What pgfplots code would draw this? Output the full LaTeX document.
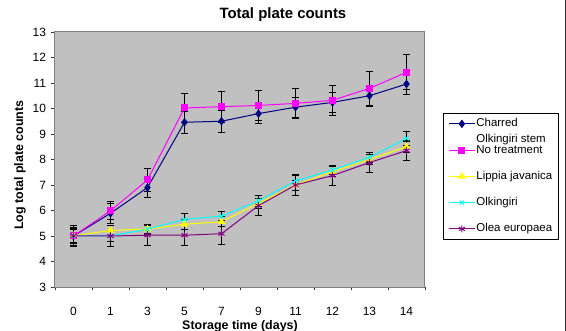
\documentclass[border=0pt]{standalone}
\usepackage{fontspec}
\setmainfont{Liberation Sans}
\usepackage{pgfplots}
\usepackage{pgfplotstable}
\pgfplotsset{compat=1.18}

\definecolor{plotgray}{RGB}{192,192,192}
\definecolor{framegray}{RGB}{128,128,128}
\definecolor{charred}{RGB}{0,0,128}
\definecolor{notreat}{RGB}{255,0,255}
\definecolor{lippia}{RGB}{255,255,0}
\definecolor{olking}{RGB}{0,255,255}
\definecolor{olea}{RGB}{128,0,128}

% x = category index (days 0,1,3,5,7,9,11,12,13,14), y = log count, e = error
\pgfplotstableread{
x y e
0 5.00 0.35
1 5.89 0.40
2 6.90 0.38
3 9.46 0.42
4 9.50 0.42
5 9.80 0.40
6 10.05 0.40
7 10.24 0.40
8 10.50 0.40
9 10.96 0.40
}\charredtab
\pgfplotstableread{
x y e
0 5.00 0.35
1 5.99 0.35
2 7.20 0.44
3 10.02 0.58
4 10.07 0.62
5 10.12 0.59
6 10.20 0.60
7 10.32 0.60
8 10.79 0.65
9 11.42 0.69
}\notreattab
\pgfplotstableread{
x y e
0 5.00 0.25
1 5.22 0.20
2 5.27 0.18
3 5.46 0.20
4 5.56 0.20
5 6.28 0.20
6 7.00 0.20
7 7.52 0.20
8 8.00 0.20
9 8.50 0.22
}\lippiatab
\pgfplotstableread{
x y e
0 5.00 0.30
1 5.00 0.20
2 5.27 0.20
3 5.65 0.22
4 5.78 0.18
5 6.38 0.20
6 7.16 0.23
7 7.59 0.17
8 8.09 0.20
9 8.83 0.26
}\olkingtab
\pgfplotstableread{
x y e
0 5.00 0.40
1 5.00 0.40
2 5.03 0.40
3 5.03 0.40
4 5.09 0.40
5 6.19 0.40
6 7.00 0.40
7 7.37 0.40
8 7.88 0.40
9 8.35 0.40
}\oleatab

\begin{document}
\begin{tikzpicture}
\useasboundingbox (-55bp,-44bp) rectangle (511bp,287bp);
\begin{axis}[
  at={(0,0)}, anchor=south west,
  scale only axis, width=370bp, height=255bp,
  xmin=-0.5, xmax=9.5, ymin=3, ymax=13,
  xtick={0,...,9},
  xticklabels={0,1,3,5,7,9,11,12,13,14},
  minor xtick={-0.5,0.5,...,9.5},
  ytick={3,...,13},
  tick align=outside, tick pos=left,
  major tick length=3.5bp, minor tick length=3.5bp,
  major x tick style={draw=none},
  tick style={black!80, line width=0.8bp},
  axis background/.style={fill=plotgray},
  axis line style={framegray, line width=1bp},
  /pgf/number format/assume math mode=true,
  tick label style={font=\fontsize{12}{14}\selectfont},
  xticklabel style={anchor=base, yshift=-25bp},
  yticklabel style={anchor=east, xshift=-2bp},
  title={Total plate counts},
  title style={font=\fontsize{15}{17}\selectfont\bfseries, at={(0.616,1)}, anchor=base, yshift=8bp},
  xlabel={Storage time (days)},
  xlabel style={font=\fontsize{12.5}{14}\selectfont\bfseries, at={(0.5,0)}, anchor=base, yshift=-42bp},
  ylabel={Log total plate counts},
  ylabel style={font=\fontsize{12.5}{14}\selectfont\bfseries, at={(-0.0946,0.478)}, anchor=center},
  legend cell align=left,
  legend image code/.code={\draw[mark repeat=2,mark phase=2] plot coordinates {(0bp,0bp) (13bp,0bp) (26bp,0bp)};},
  legend style={at={(1.0486,0.6824)}, anchor=north west, draw=black, line width=0.8bp, fill=white,
    inner xsep=5bp, inner ysep=5bp, row sep=15.25bp,
    font=\fontsize{11.5}{13}\selectfont,
    nodes={inner xsep=1bp, inner ysep=0bp, text height=8.5bp, text depth=2.5bp}},
  error bars/y dir=both, error bars/y explicit,
  error bars/error bar style={black, line width=0.8bp},
  error bars/error mark options={black, rotate=90, mark size=3.5bp, line width=0.8bp},
]
\addplot[charred, line width=1bp, mark=diamond*, mark size=3.5bp, mark options={fill=charred, draw=charred}]
  table[x=x, y=y, y error=e] {\charredtab};
\addlegendentry{\rlap{\raisebox{-16bp}[0pt][0pt]{Olkingiri stem}}Charred}
\addplot[notreat, line width=1bp, mark=square*, mark size=3bp, mark options={fill=notreat, draw=notreat}]
  table[x=x, y=y, y error=e] {\notreattab};
\addlegendentry{No treatment}
\addplot[lippia, line width=1bp, mark=triangle*, mark size=3.5bp, mark options={fill=lippia, draw=lippia}]
  table[x=x, y=y, y error=e] {\lippiatab};
\addlegendentry{Lippia javanica}
\addplot[olking, line width=1bp, mark=x, mark size=3bp, mark options={draw=olking, line width=1bp}]
  table[x=x, y=y, y error=e] {\olkingtab};
\addlegendentry{Olkingiri}
\addplot[olea, line width=1bp, mark=asterisk, mark size=3.5bp, mark options={draw=olea, line width=1bp}]
  table[x=x, y=y, y error=e] {\oleatab};
\addlegendentry{Olea europaea}
\end{axis}
\draw[black!80, line width=1bp] (510.5bp,-44bp) -- (510.5bp,287bp);
\end{tikzpicture}
\end{document}
